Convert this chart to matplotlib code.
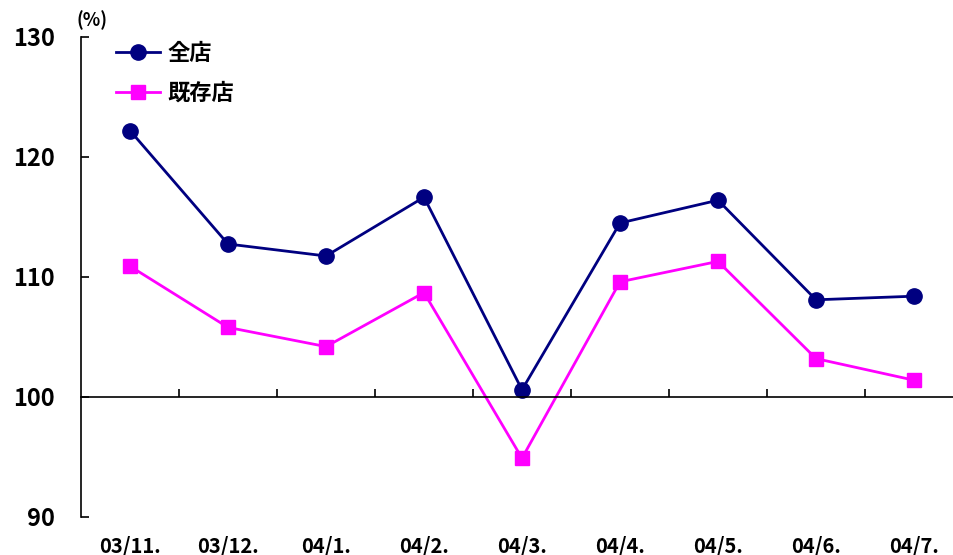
import numpy as np
import matplotlib
matplotlib.use("Agg")
import matplotlib.pyplot as plt
import matplotlib.transforms as mtransforms

plt.rcParams['font.family'] = ['Noto Sans CJK JP', 'DejaVu Sans']
plt.rcParams['font.weight'] = 'bold'

months = ["03/11.", "03/12.", "04/1.", "04/2.", "04/3.", "04/4.", "04/5.", "04/6.", "04/7."]
all_stores = [122.2, 112.75, 111.75, 116.65, 100.6, 114.5, 116.4, 108.1, 108.4]
existing_stores = [110.9, 105.8, 104.2, 108.7, 94.9, 109.6, 111.3, 103.2, 101.4]
yticks = [90, 100, 110, 120, 130]

fig = plt.figure(figsize=(9.54, 5.55), dpi=100)
ax = fig.add_axes([81/954, 38/555, 882/954, 480/555])

x = np.arange(len(months))
ax.plot(x, all_stores, '-o', color='#000080', lw=2, markersize=11, label='全店')
ax.plot(x, existing_stores, '-s', color='#FF00FF', lw=2, markersize=10, label='既存店')

ax.set_xlim(-0.5, len(months) - 0.5)
ax.set_ylim(90, 130)
ax.set_yticks(yticks)
ax.tick_params(axis='y', direction='in', length=6, width=1.2, pad=19, labelsize=17)
for lab in ax.get_yticklabels():
    lab.set_fontweight('bold')

# x axis crosses at 100, ticks at category boundaries
ax.spines['bottom'].set_position(('data', 100))
ax.spines['top'].set_visible(False)
ax.spines['right'].set_visible(False)
ax.spines['left'].set_linewidth(1.2)
ax.spines['bottom'].set_linewidth(1.2)
ax.set_xticks(np.arange(0.5, len(months) - 0.5, 1.0))
ax.tick_params(axis='x', direction='in', length=6, width=1.2, labelbottom=False)

trans = mtransforms.blended_transform_factory(ax.transData, ax.transAxes)
for i, m in enumerate(months):
    ax.text(i, -0.06, m, transform=trans, ha='center', va='center',
            fontsize=14.5, fontweight='bold')

ax.text(-0.005, 1.035, '(%)', transform=ax.transAxes, ha='left', va='center',
        fontsize=13, fontweight='bold')

leg = ax.legend(loc='upper left', bbox_to_anchor=(0.022, 1.022), frameon=False,
                prop={'size': 16, 'weight': 'bold'}, handlelength=2.0,
                labelspacing=0.75, handletextpad=0.3, borderpad=0.2)

fig.savefig('out.png', dpi=100)
